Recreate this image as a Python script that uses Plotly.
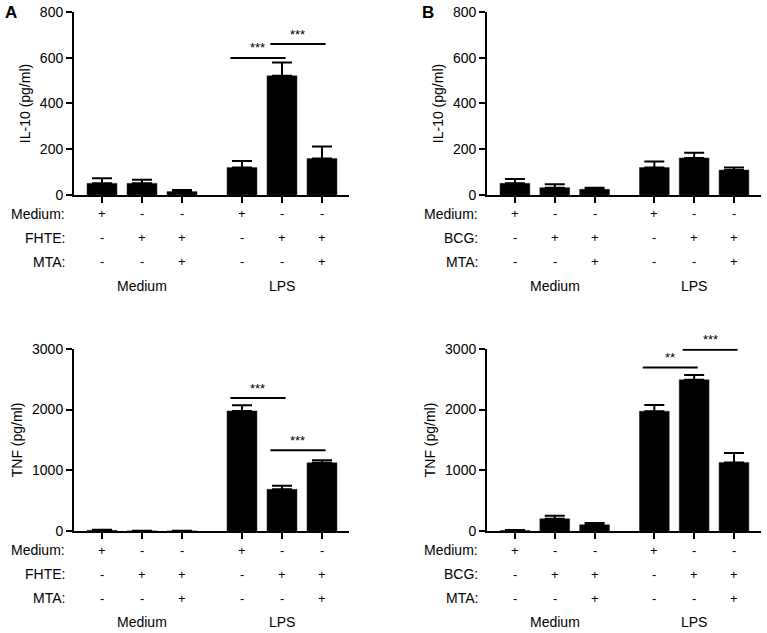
import plotly.graph_objects as go
from plotly.subplots import make_subplots

# treatment table under every panel
row_medium = ["+", "-", "-", "+", "-", "-"]
row_stim = ["-", "+", "+", "-", "+", "+"]
row_mta = ["-", "-", "+", "-", "-", "+"]
bar_group = [0, 0, 0, 1, 1, 1]
group_names = ["Medium", "LPS"]

# A: FHTE, B: BCG
il10_fhte = [51, 51, 15, 120, 521, 159]
il10_fhte_err = [22, 15, 7, 29, 58, 53]
tnf_fhte = [12, 3, 2, 1978, 687, 1126]
tnf_fhte_err = [8, 2, 2, 93, 60, 39]

il10_bcg = [51, 32, 25, 120, 162, 109]
il10_bcg_err = [19, 15, 7, 26, 23, 11]
tnf_bcg = [10, 203, 104, 1974, 2490, 1130]
tnf_bcg_err = [6, 49, 28, 99, 77, 153]

# significance brackets: (bar from, bar to, height, label)
sig_il10_fhte = [(3, 4, 599, "***"), (4, 5, 660, "***")]
sig_tnf_fhte = [(3, 4, 2190, "***"), (4, 5, 1330, "***")]
sig_il10_bcg = []
sig_tnf_bcg = [(3, 4, 2690, "**"), (4, 5, 2985, "***")]

FONT = "Liberation Sans, Arial, sans-serif"

# x position of each bar: extra half slot between Medium and LPS groups
xpos = [i + 0.5 * g for i, g in enumerate(bar_group)]

panels = [
    # row, col, values, errors, y max, tick step, title, stim name, brackets
    (1, 1, il10_fhte, il10_fhte_err, 800, 200, "IL-10 (pg/ml)", "FHTE:", sig_il10_fhte),
    (1, 2, il10_bcg, il10_bcg_err, 800, 200, "IL-10 (pg/ml)", "BCG:", sig_il10_bcg),
    (2, 1, tnf_fhte, tnf_fhte_err, 3000, 1000, "TNF (pg/ml)", "FHTE:", sig_tnf_fhte),
    (2, 2, tnf_bcg, tnf_bcg_err, 3000, 1000, "TNF (pg/ml)", "BCG:", sig_tnf_bcg),
]

fig = make_subplots(rows=2, cols=2)

x_domains = {1: [0.0965, 0.455], 2: [0.635, 0.992]}
y_domains = {1: [0.692, 0.981], 2: [0.161, 0.449]}

annotations = []
shapes = []
for n, (r, c, vals, errs, ymax, dtick, title, stim, sigs) in enumerate(panels, start=1):
    fig.add_trace(go.Bar(
        x=xpos, y=vals, width=0.75,
        marker=dict(color="black", line=dict(color="#333", width=0.5)),
        error_y=dict(type="data", array=errs, arrayminus=[0] * len(errs),
                     symmetric=False, color="black", thickness=2, width=10),
    ), row=r, col=c)

    fig.update_xaxes(domain=x_domains[c], range=[-0.7, 6.175], tickvals=xpos,
                     showticklabels=False, ticks="outside", ticklen=6, tickwidth=2,
                     tickcolor="black", showline=True, linewidth=2, linecolor="black",
                     showgrid=False, zeroline=False, automargin=False, row=r, col=c)
    fig.update_yaxes(domain=y_domains[r], range=[0, ymax],
                     tickvals=list(range(0, ymax + 1, dtick)),
                     ticks="outside", ticklen=6, tickwidth=2, tickcolor="black",
                     showline=True, linewidth=2, linecolor="black",
                     showgrid=False, zeroline=False, automargin=False,
                     tickfont=dict(family=FONT, size=14, color="black"),
                     title=dict(text=title, standoff=6,
                                font=dict(family=FONT, size=14, color="black")),
                     row=r, col=c)

    xr = "x" if n == 1 else f"x{n}"
    yr = "y" if n == 1 else f"y{n}"

    # treatment table
    for k, (lab, row) in enumerate([("Medium:", row_medium), (stim, row_stim), ("MTA:", row_mta)]):
        shift = -19 - 24 * k
        annotations.append(dict(text=lab, xref=f"{xr} domain", yref=f"{yr} domain",
                                x=0, y=0, xshift=-7, yshift=shift, xanchor="right",
                                yanchor="middle", showarrow=False,
                                font=dict(family=FONT, size=14, color="black")))
        for xp, s in zip(xpos, row):
            annotations.append(dict(text=s, xref=xr, yref=f"{yr} domain", x=xp, y=0,
                                    yshift=shift, yanchor="middle", showarrow=False,
                                    font=dict(family=FONT, size=13, color="black")))
    for g, name in enumerate(group_names):
        gx = [xp for xp, b in zip(xpos, bar_group) if b == g]
        annotations.append(dict(text=name, xref=xr, yref=f"{yr} domain",
                                x=sum(gx) / len(gx), y=0, yshift=-91, yanchor="middle",
                                showarrow=False,
                                font=dict(family=FONT, size=14, color="black")))

    # significance brackets
    for i, j, lvl, lab in sigs:
        mid = (xpos[i] + xpos[j]) / 2 - 0.1
        shapes.append(dict(type="line", xref=xr, yref=yr, x0=mid - 0.69, x1=mid + 0.69,
                           y0=lvl, y1=lvl, line=dict(color="black", width=2)))
        annotations.append(dict(text=lab, xref=xr, yref=yr, x=mid, y=lvl, yshift=10,
                                yanchor="middle", showarrow=False,
                                font=dict(family=FONT, size=13, color="black")))

annotations.append(dict(text="<b>A</b>", xref="paper", yref="paper", x=0.004, y=0.998,
                        xanchor="left", yanchor="top", showarrow=False,
                        font=dict(family=FONT, size=17, color="black")))
annotations.append(dict(text="<b>B</b>", xref="paper", yref="paper", x=0.547, y=0.998,
                        xanchor="left", yanchor="top", showarrow=False,
                        font=dict(family=FONT, size=17, color="black")))

fig.update_layout(
    width=767, height=633,
    margin=dict(l=0, r=0, t=0, b=0),
    plot_bgcolor="white", paper_bgcolor="white",
    showlegend=False,
    annotations=annotations,
    shapes=shapes,
)

# drop the browser's default body margin so the figure sits at the page corner
fig.write_html("out.html", config={"displayModeBar": False},
               post_script="document.body.style.margin='0';")
